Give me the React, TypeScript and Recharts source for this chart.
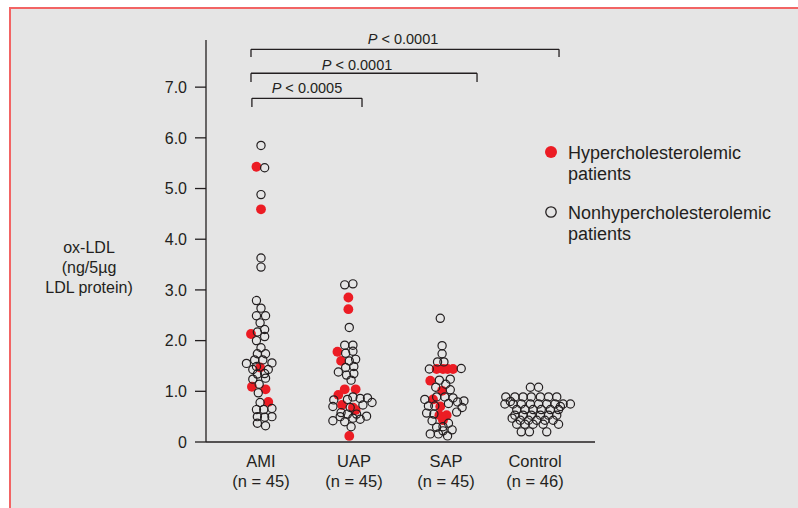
import React from 'react';
import { ScatterChart, Scatter, XAxis, YAxis, ReferenceLine, Legend } from 'recharts';

const FONT = '"Liberation Sans", Arial, Helvetica, sans-serif';
const INK = '#231f20';
const RED = '#ec1c24';
const BG = '#e5e5e5';
const FRAME = '#f26464';

const categories = ['AMI', 'UAP', 'SAP', 'Control'];
const groupSizes = [45, 45, 45, 46];
const yTicks = [0, 1, 2, 3, 4, 5, 6, 7];

type Pt = [number, number]; // [horizontal offset within group, ox-LDL value]

const amiHyper: Pt[] = [[-0.05, 5.43], [0, 4.59], [-0.11, 2.13], [-0.01, 1.47], [-0.10, 1.09], [0.05, 1.04], [0.08, 0.79]];
const amiNon: Pt[] = [[0, 5.85], [0.04, 5.41], [0, 4.88], [0, 3.63], [0, 3.45], [-0.05, 2.79], [0, 2.64], [-0.05, 2.49], [0.05, 2.49], [-0.01, 2.35], [0.04, 2.22], [-0.04, 2.17], [0.04, 2.08], [-0.05, 2.0], [0, 1.86], [-0.04, 1.74], [0.05, 1.74], [-0.07, 1.62], [0.02, 1.62], [-0.16, 1.55], [0.12, 1.56], [-0.05, 1.49], [0.08, 1.43], [-0.09, 1.43], [-0.04, 1.34], [0.04, 1.35], [0.05, 1.26], [-0.09, 1.24], [-0.02, 1.14], [-0.03, 0.97], [-0.01, 0.78], [-0.05, 0.64], [0.03, 0.64], [0.12, 0.66], [-0.04, 0.5], [0.04, 0.49], [0.12, 0.5], [-0.04, 0.37], [0.05, 0.32]];

const uapHyper: Pt[] = [[-0.04, 2.85], [-0.04, 2.62], [-0.16, 1.78], [-0.12, 1.6], [-0.15, 0.93], [-0.08, 1.04], [0.04, 1.04], [-0.11, 0.73], [0.01, 0.68], [0.04, 0.63], [-0.03, 0.12]];
const uapNon: Pt[] = [[-0.08, 3.1], [0.01, 3.12], [-0.03, 2.26], [-0.08, 1.91], [0.01, 1.91], [-0.07, 1.75], [0.01, 1.79], [0.04, 1.63], [-0.03, 1.6], [-0.07, 1.47], [0.02, 1.49], [-0.15, 1.38], [-0.06, 1.32], [0.02, 1.35], [-0.01, 1.22], [-0.2, 0.83], [-0.05, 0.84], [0.01, 0.89], [0.09, 0.86], [0.17, 0.87], [0.22, 0.78], [-0.21, 0.7], [0.12, 0.73], [-0.02, 0.68], [-0.12, 0.58], [-0.05, 0.55], [0.05, 0.55], [0.16, 0.51], [-0.21, 0.42], [-0.13, 0.5], [-0.08, 0.4], [0.01, 0.47], [0.09, 0.45], [-0.01, 0.3]];

const sapHyper: Pt[] = [[-0.07, 1.44], [0, 1.44], [0.05, 1.44], [0.11, 1.44], [-0.14, 1.21], [-0.01, 1.01], [-0.11, 0.84], [-0.03, 0.7], [-0.04, 0.53], [0.04, 0.53], [0, 0.43]];
const sapNon: Pt[] = [[-0.03, 2.44], [-0.01, 1.9], [-0.01, 1.74], [-0.06, 1.58], [0.01, 1.58], [-0.15, 1.44], [0.2, 1.45], [-0.04, 1.22], [0.08, 1.24], [-0.08, 1.08], [0.03, 1.14], [0.08, 1.03], [-0.2, 0.84], [-0.07, 0.89], [0.02, 0.89], [0.11, 0.87], [0.23, 0.81], [-0.16, 0.71], [-0.09, 0.71], [0.06, 0.76], [0.16, 0.79], [0.21, 0.68], [-0.18, 0.57], [-0.1, 0.55], [0.15, 0.59], [-0.12, 0.42], [-0.07, 0.29], [0, 0.3], [0.06, 0.37], [0.1, 0.24], [-0.14, 0.16], [-0.05, 0.16], [0.05, 0.12], [0, 0.22]];

const controlHyper: Pt[] = [];
const controlNon: Pt[] = [[-0.04, 1.08], [0.05, 1.08], [-0.31, 0.89], [-0.21, 0.89], [-0.12, 0.89], [-0.03, 0.89], [0.07, 0.89], [0.16, 0.89], [0.25, 0.89], [-0.32, 0.75], [-0.23, 0.75], [-0.14, 0.75], [-0.04, 0.75], [0.05, 0.75], [0.14, 0.75], [0.23, 0.75], [0.32, 0.75], [0.4, 0.75], [-0.19, 0.64], [-0.1, 0.64], [-0.01, 0.64], [0.08, 0.64], [0.18, 0.64], [0.27, 0.64], [-0.21, 0.53], [-0.12, 0.53], [-0.03, 0.53], [0.07, 0.53], [0.16, 0.53], [0.25, 0.53], [-0.15, 0.43], [-0.06, 0.43], [0.03, 0.43], [0.12, 0.43], [0.21, 0.43], [-0.19, 0.35], [-0.1, 0.35], [-0.01, 0.35], [0.1, 0.35], [0.27, 0.35], [-0.14, 0.2], [-0.05, 0.2], [0.14, 0.2], [-0.26, 0.8], [0.29, 0.7], [-0.24, 0.47]];

const hyperGroups = [amiHyper, uapHyper, sapHyper, controlHyper];
const nonGroups = [amiNon, uapNon, sapNon, controlNon];

const brackets = [
  { from: 0.89, to: 4.275, y: 7.747, drop: 7.595, p: '0.0001', shift: -2, lift: 5 },
  { from: 0.89, to: 3.374, y: 7.274, drop: 7.102, p: '0.0001', shift: -7, lift: 3 },
  { from: 0.9, to: 2.11, y: 6.78, drop: 6.608, p: '0.0005', shift: 0, lift: 5 },
];

const labelShift = [0, 2, 3, 1];

const toPoints = (groups: Pt[][]) =>
  groups.flatMap((g, i) => g.map(([off, v]) => ({ x: i + 1 + off, y: v })));

const hyperData = toPoints(hyperGroups);
const nonData = toPoints(nonGroups);

const HyperDot = (p: any) => <circle cx={p.cx} cy={p.cy} r={4.9} fill={RED} />;
const OpenDot = (p: any) => (
  <circle cx={p.cx} cy={p.cy} r={4.1} fill="none" stroke={INK} strokeWidth={1.2} />
);

const CategoryTick = (props: any) => {
  const { x, y, payload, index } = props;
  const i = Math.round(payload.value) - 1;
  const dx = labelShift[i] ?? 0;
  return (
    <g>
      <text x={x + dx} y={y + 25} textAnchor="middle" fontFamily={FONT} fontSize={16.5} fill={INK}>
        {categories[i]}
      </text>
      <text x={x + dx} y={y + 45} textAnchor="middle" fontFamily={FONT} fontSize={16.5} fill={INK}>
        {`(n = ${groupSizes[i]})`}
      </text>
    </g>
  );
};

const YLabel = (props: any) => {
  const vb = props.viewBox || { x: 146, y: 40, width: 60, height: 402 };
  const cx = vb.x + vb.width - 117;
  return (
    <text textAnchor="middle" fontFamily={FONT} fontSize={16} fill={INK}>
      <tspan x={cx} y={vb.y + 213}>ox-LDL</tspan>
      <tspan x={cx} y={vb.y + 233}>(ng/5µg</tspan>
      <tspan x={cx} y={vb.y + 253}>LDL protein)</tspan>
    </text>
  );
};

const bracketLabel = (b: typeof brackets[number]) => (props: any) => {
  const vb = props.viewBox;
  if (!vb) return null;
  const cx = vb.x + vb.width / 2 + b.shift;
  return (
    <text x={cx} y={vb.y - b.lift} textAnchor="middle" fontFamily={FONT} fontSize={14.5} fill={INK}>
      <tspan fontStyle="italic">P</tspan>
      <tspan> &lt; {b.p}</tspan>
    </text>
  );
};

const LegendBox = () => (
  <svg width={260} height={112} style={{ overflow: 'visible' }}>
    <circle cx={11} cy={17} r={6} fill={RED} />
    <text fontFamily={FONT} fontSize={18} fill={INK}>
      <tspan x={28} y={23.5}>Hypercholesterolemic</tspan>
      <tspan x={28} y={44.5}>patients</tspan>
    </text>
    <circle cx={11} cy={77} r={5.2} fill="none" stroke={INK} strokeWidth={1.3} />
    <text fontFamily={FONT} fontSize={18} fill={INK}>
      <tspan x={28} y={83.5}>Nonhypercholesterolemic</tspan>
      <tspan x={28} y={104.5}>patients</tspan>
    </text>
  </svg>
);

export default function App() {
  return (
    <div style={{ position: 'absolute', left: 0, top: 0, width: 798, height: 508, overflow: 'hidden' }}>
      <div
        style={{
          position: 'absolute',
          left: 9,
          top: 7,
          width: 787,
          height: 499,
          background: BG,
          borderLeft: `2px solid ${FRAME}`,
          borderTop: `2px solid ${FRAME}`,
        }}
      />
      <div style={{ position: 'absolute', left: 0, top: 0 }}>
        <ScatterChart width={798} height={508} margin={{ top: 40, right: 203, bottom: 36, left: 146 }}>
          <XAxis
            type="number"
            dataKey="x"
            domain={[0.3956, 4.6703]}
            ticks={[1, 2, 3, 4]}
            allowDataOverflow
            tickLine={false}
            tickSize={0}
            tickMargin={0}
            height={30}
            axisLine={{ stroke: INK, strokeWidth: 1.3 }}
            tick={<CategoryTick />}
            interval={0}
          />
          <YAxis
            type="number"
            dataKey="y"
            domain={[0, 7.93]}
            ticks={yTicks}
            allowDataOverflow
            width={60}
            tickSize={11}
            tickMargin={8}
            interval={0}
            axisLine={{ stroke: INK, strokeWidth: 1.3 }}
            tickLine={{ stroke: INK, strokeWidth: 1.3 }}
            tick={{ fontFamily: FONT, fontSize: 16, fill: INK }}
            tickFormatter={(v: number) => (v === 0 ? '0' : v.toFixed(1))}
            label={(p: any) => <YLabel {...p} />}
          />
          {brackets.map((b, i) => (
            <ReferenceLine
              key={`h${i}`}
              segment={[{ x: b.from, y: b.y }, { x: b.to, y: b.y }]}
              stroke={INK}
              strokeWidth={1.3}
              ifOverflow="visible"
              label={bracketLabel(b)}
            />
          ))}
          {brackets.map((b, i) => (
            <ReferenceLine
              key={`l${i}`}
              segment={[{ x: b.from, y: b.y }, { x: b.from, y: b.drop }]}
              stroke={INK}
              strokeWidth={1.3}
              ifOverflow="visible"
            />
          ))}
          {brackets.map((b, i) => (
            <ReferenceLine
              key={`r${i}`}
              segment={[{ x: b.to, y: b.y }, { x: b.to, y: b.drop }]}
              stroke={INK}
              strokeWidth={1.3}
              ifOverflow="visible"
            />
          ))}
          <Scatter name="Hypercholesterolemic patients" data={hyperData} shape={HyperDot} isAnimationActive={false} />
          <Scatter name="Nonhypercholesterolemic patients" data={nonData} shape={OpenDot} isAnimationActive={false} />
          <Legend
            layout="vertical"
            align="center"
            verticalAlign="middle"
            wrapperStyle={{ left: 540, top: 135, width: 260, height: 112 }}
            content={() => <LegendBox />}
          />
        </ScatterChart>
      </div>
    </div>
  );
}
